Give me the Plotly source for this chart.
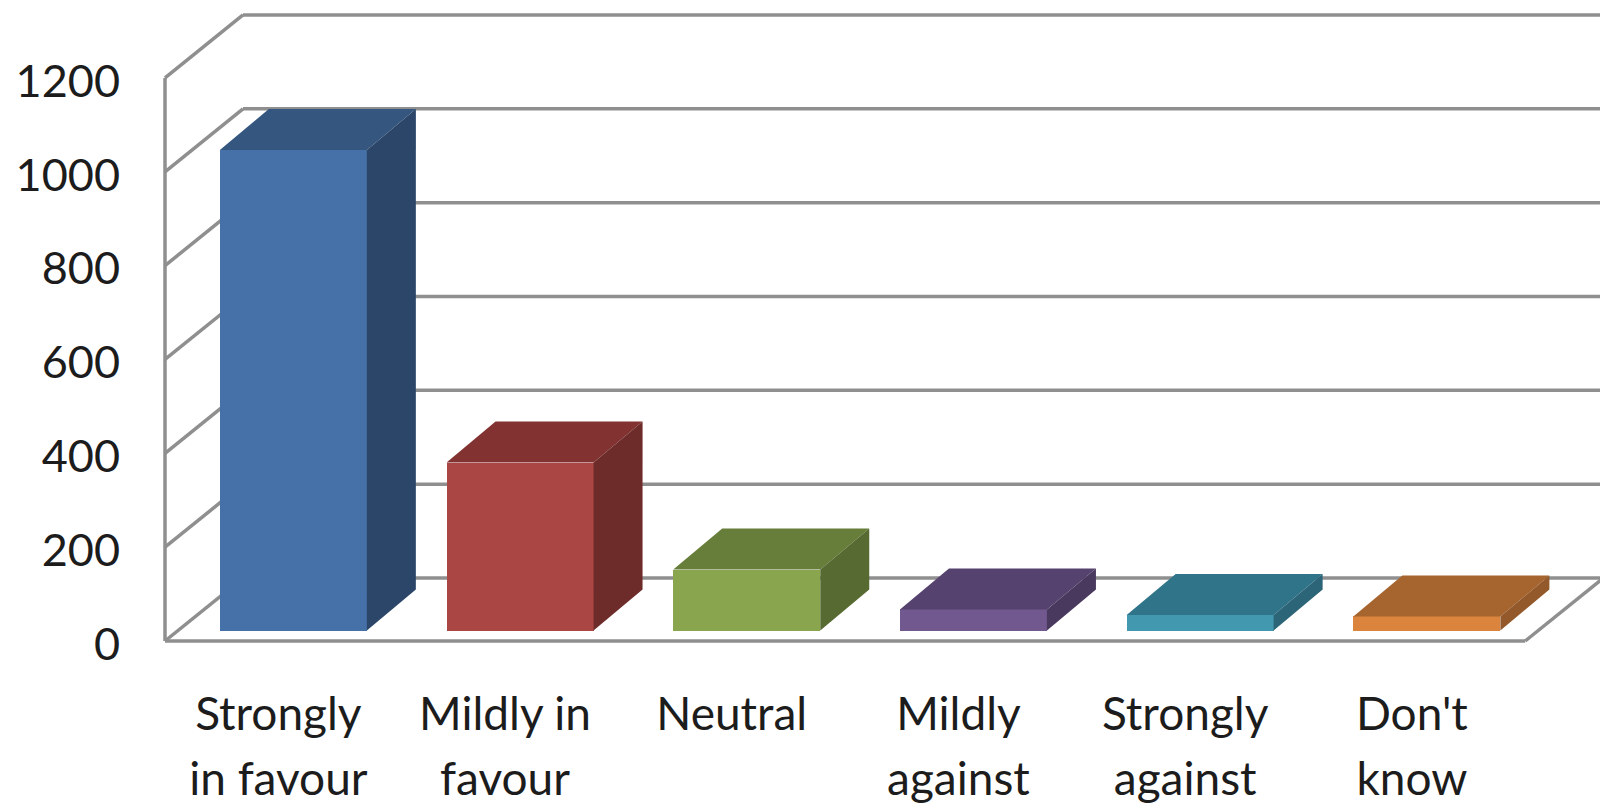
import plotly.graph_objects as go

categories = ["Strongly<br>in favour", "Mildly in<br>favour", "Neutral", "Mildly<br>against", "Strongly<br>against", "Don't<br>know"]
values = [1024, 358, 130, 45, 33, 30]
y_ticks = [0, 200, 400, 600, 800, 1000, 1200]
front_colors = ["#4571A8", "#AA4643", "#89A54E", "#71588F", "#4198AF", "#DB843D"]
top_colors = ["#34567F", "#823331", "#677D3A", "#56426E", "#30748A", "#A6642E"]
side_colors = ["#2B4669", "#6D2C2A", "#576A31", "#4A395F", "#2B6577", "#93592A"]

W, H = 1600, 804
PAD = 12
WALL_LEFT = 165
WALL_BOTTOM = 641.5
ML = WALL_LEFT - PAD
MB = H - WALL_BOTTOM - PAD
PX_X = 226.7
PX_Y = 0.4696
X0 = -0.5
AX_X0 = X0 - PAD / PX_X
XR = X0 + (W - WALL_LEFT) / PX_X
AX_Y0 = -PAD / PX_Y
YR = WALL_BOTTOM / PX_Y

WALL_DX, WALL_DY = 78 / PX_X, 63 / PX_Y
BAR_SHIFT, BAR_BASE = 15 / PX_X, 10.5 / PX_Y
BAR_W = 147 / PX_X
BAR_DX, BAR_DY = 49 / PX_X, 41 / PX_Y

fig = go.Figure()
idx = list(range(len(categories)))

fig.add_trace(go.Bar(
    x=[i + BAR_SHIFT for i in idx], y=values, base=BAR_BASE, width=BAR_W,
    marker=dict(color=front_colors, line=dict(width=0)), showlegend=False, hoverinfo="skip",
))

for i, v, tc, sc in zip(idx, values, top_colors, side_colors):
    xl = i + BAR_SHIFT - BAR_W / 2
    xr = i + BAR_SHIFT + BAR_W / 2
    yb = BAR_BASE
    yt = BAR_BASE + v
    fig.add_trace(go.Scatter(
        x=[xl, xr, xr + BAR_DX, xl + BAR_DX, xl], y=[yt, yt, yt + BAR_DY, yt + BAR_DY, yt],
        mode="lines", fill="toself", fillcolor=tc, line=dict(width=0), showlegend=False, hoverinfo="skip",
    ))
    fig.add_trace(go.Scatter(
        x=[xr, xr + BAR_DX, xr + BAR_DX, xr, xr], y=[yb, yb + BAR_DY, yt + BAR_DY, yt, yb],
        mode="lines", fill="toself", fillcolor=sc, line=dict(width=0), showlegend=False, hoverinfo="skip",
    ))

GRID = dict(color="#8F8F8F", width=3.5)
shapes = []
def seg(x0, y0, x1, y1):
    shapes.append(dict(type="line", layer="below", xref="x", yref="y",
                       x0=x0, y0=y0, x1=x1, y1=y1, line=GRID))

for t in y_ticks:
    seg(X0, t, X0 + WALL_DX, t + WALL_DY)
    seg(X0 + WALL_DX, t + WALL_DY, XR, t + WALL_DY)
seg(X0, 0, X0, y_ticks[-1])
x_end = X0 + len(categories)
seg(X0, 0, x_end, 0)
seg(x_end, 0, x_end + WALL_DX, WALL_DY)

label_text = ["<br>".join(f'<span style="font-size:46px">{p}</span>' for p in c.split("<br>")) for c in categories]

fig.update_layout(
    width=W, height=H,
    margin=dict(l=ML, r=0, t=0, b=MB, pad=0),
    paper_bgcolor="white", plot_bgcolor="white",
    font=dict(family="Lato", color="#1C1C1C"),
    shapes=shapes, showlegend=False, bargap=0,
    xaxis=dict(range=[AX_X0, XR], tickmode="array", tickvals=idx, ticktext=label_text,
               showgrid=False, zeroline=False, showline=False, ticks="", tickangle=0,
               tickfont=dict(family="Lato", size=50, color="#1C1C1C"), ticklabelstandoff=26),
    yaxis=dict(range=[AX_Y0, YR], tickmode="array", tickvals=y_ticks, ticktext=[str(t) for t in y_ticks],
               showgrid=False, zeroline=False, showline=False, ticks="",
               tickfont=dict(family="Lato", size=45, color="#1C1C1C"), ticklabelstandoff=32, ticklabelshift=3),
)
fig.write_html("out.html", config=dict(displayModeBar=False),
               post_script="document.body.style.margin='0';document.body.style.overflow='hidden';")
